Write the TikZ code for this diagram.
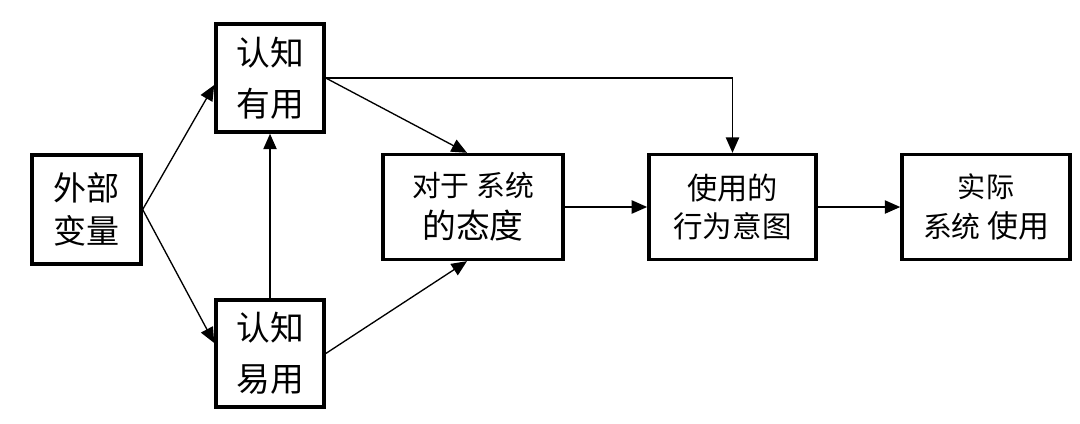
\documentclass[tikz,border=0pt]{standalone}
\usepackage{fontspec}
\setmainfont{Noto Sans CJK SC}
\usetikzlibrary{arrows.meta}

\begin{document}
\begin{tikzpicture}[x=0.025cm,y=-0.025cm,
  box/.style={draw,line width=2.5pt,align=center,inner sep=0pt,minimum height=2.62cm},
  link/.style={line width=0.95pt,-{Triangle[length=11pt,width=9.5pt]}}]
\useasboundingbox (0,0) rectangle (1080,423);
% boxes
\node[box,minimum width=2.72cm,minimum height=2.72cm,font=\fontsize{23.5}{30}\selectfont](ext)at(86.5,209.5){外部\\[1pt]变量};
\node[box,minimum width=2.7cm,minimum height=2.7cm,font=\fontsize{24}{35}\selectfont](pu)at(270,78){认知\\[1pt]有用};
\node[box,minimum width=2.7cm,minimum height=2.68cm,font=\fontsize{24}{35}\selectfont](peou)at(270,353.5){认知\\[1pt]易用};
\node[box,minimum width=4.5cm](att)at(473,207)
  {\fontsize{20.5}{30}\selectfont 对于 系统\\[7pt]\fontsize{24}{30}\selectfont 的态度};
\node[box,minimum width=4.18cm](bi)at(732.5,207)
  {\fontsize{21.5}{32}\selectfont 使用的\\[7pt]\fontsize{21}{32}\selectfont 行为意图};
\node[box,minimum width=4.2cm](use)at(986,207)
  {\fontsize{20}{32}\selectfont 实际\\[7pt]\fontsize{20.5}{32}\selectfont 系统 \fontsize{22}{32}\selectfont 使用};
% connectors
\draw[link](ext.east)--(pu.west|-0,85);
\draw[link](ext.east)--(peou.west|-0,343);
\draw[link](peou)--(pu);
\draw[link](pu.east)--([xshift=-0.15cm]att.north);
\draw[link](peou.east)--([xshift=-0.15cm]att.south);
\draw[link](pu.east)-|(bi.north);
\draw[link](att)--(bi);
\draw[link](bi)--(use);
\end{tikzpicture}
\end{document}
